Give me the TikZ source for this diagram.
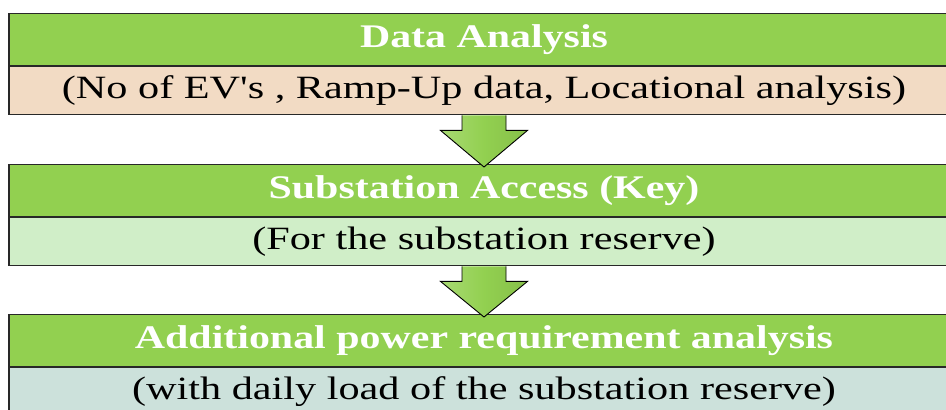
\documentclass[tikz,border=0pt]{standalone}
\usepackage{fontspec}
\setmainfont{Liberation Serif}
\usetikzlibrary{positioning,calc,shadows}
\definecolor{headgreen}{RGB}{146,208,80}
\definecolor{beige}{RGB}{242,219,196}
\definecolor{palegreen}{RGB}{208,238,200}
\definecolor{bluegray}{RGB}{204,225,219}
\definecolor{edge}{RGB}{40,40,40}

\tikzset{
  headbox/.style={draw=edge, line width=1.2pt, fill=headgreen, minimum width=950, minimum height=52,
    inner sep=0pt, anchor=north, text=white, font=\fontsize{33}{36}\selectfont\bfseries},
  bodybox/.style={draw=edge, line width=1.2pt, minimum width=950, minimum height=48,
    inner sep=0pt, text=black, font=\fontsize{32.5}{36}\selectfont},
  flowarrow/.style={draw=black, line width=0.9pt, line join=miter, left color=headgreen!80!white,
    right color=headgreen!92!black, middle color=headgreen},
  boxshadow/.style={drop shadow={opacity=0.25, shadow xshift=0pt, shadow yshift=-3pt}}
}

\begin{document}
\begin{tikzpicture}[x=1pt,y=-1pt]
\useasboundingbox (0,0) rectangle (946,410);
\clip (0,0) rectangle (946,410);

% first step
\node[headbox,boxshadow] (head1) at (484,13) {\scalebox{1.27}[1]{Data Analysis}};
\node[bodybox,fill=beige,below=0pt of head1] (body1) {\scalebox{1.3}[1]{(No of EV\textquotesingle s , Ramp-Up data, Locational analysis)}};

% second step
\node[headbox,boxshadow] (head2) at (484,164) {\scalebox{1.27}[1]{Substation Access (Key)}};
\node[bodybox,fill=palegreen,below=0pt of head2] (body2) {\scalebox{1.3}[1]{(For the substation reserve)}};

% third step
\node[headbox,boxshadow] (head3) at (484,314) {\scalebox{1.27}[1]{Additional power requirement analysis}};
\node[bodybox,fill=bluegray,below=0pt of head3] (body3) {\scalebox{1.3}[1]{(with daily load of the substation reserve)}};

% arrows between the steps
\draw[flowarrow] ($(body1.south)+(-22,0)$) -- ($(body1.south)+(-22,15)$) -- ($(body1.south)+(-43.5,15)$)
  -- ($(head2.north)+(0,3)$) -- ($(body1.south)+(43.5,15)$) -- ($(body1.south)+(22,15)$) -- ($(body1.south)+(22,0)$);
\draw[flowarrow] ($(body2.south)+(-22,0)$) -- ($(body2.south)+(-22,15)$) -- ($(body2.south)+(-43.5,15)$)
  -- ($(head3.north)+(0,3)$) -- ($(body2.south)+(43.5,15)$) -- ($(body2.south)+(22,15)$) -- ($(body2.south)+(22,0)$);
\end{tikzpicture}
\end{document}
